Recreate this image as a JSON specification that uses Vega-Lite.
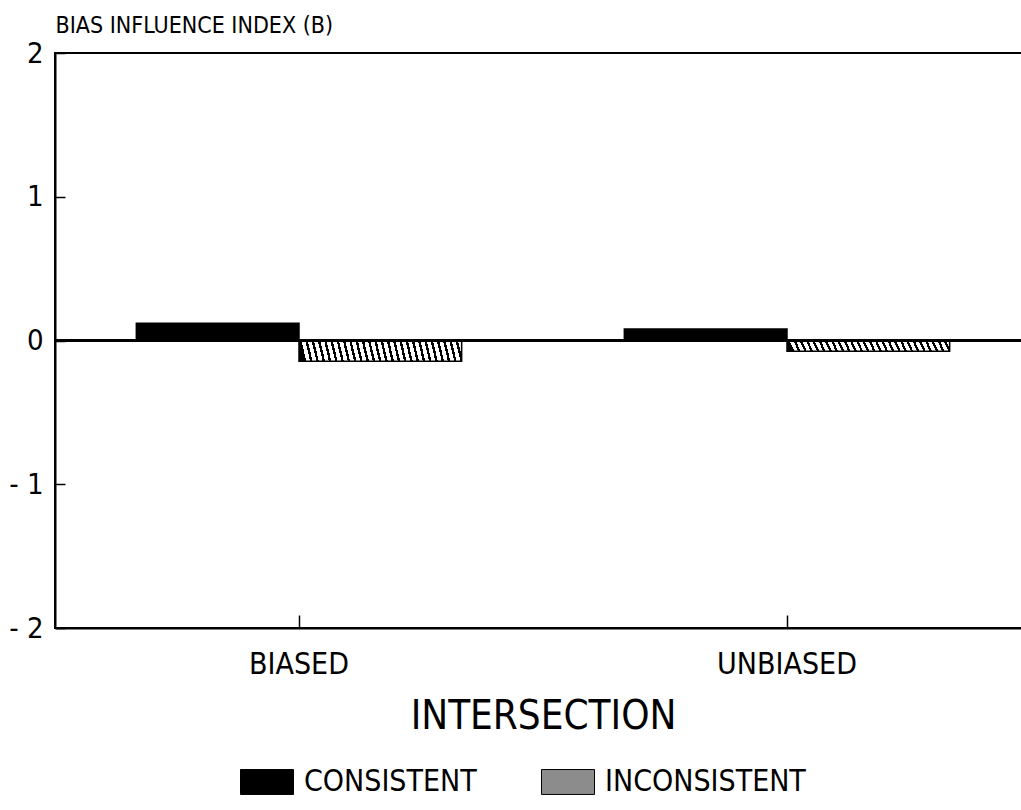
{
  "$schema": "https://vega.github.io/schema/vega-lite/v6.json",
  "width": 976,
  "height": 575,
  "autosize": {"type": "none"},
  "padding": {"left": 55, "top": 53, "right": 0, "bottom": 182},
  "background": "white",
  "config": {
    "view": {"stroke": "black", "strokeWidth": 2},
    "font": "Liberation Sans Narrow, DejaVu Sans Condensed, sans-serif"
  },
  "data": {
    "values": [
      {"intersection": "BIASED", "condition": "CONSISTENT", "bias": 0.12},
      {"intersection": "BIASED", "condition": "INCONSISTENT", "bias": -0.145},
      {"intersection": "UNBIASED", "condition": "CONSISTENT", "bias": 0.08},
      {"intersection": "UNBIASED", "condition": "INCONSISTENT", "bias": -0.075}
    ]
  },
  "layer": [
    {
      "mark": {"type": "bar", "stroke": "black", "strokeWidth": 1.5},
      "encoding": {
        "x": {
          "field": "intersection",
          "type": "nominal",
          "sort": ["BIASED", "UNBIASED"],
          "scale": {"paddingInner": 0, "paddingOuter": 0},
          "title": "INTERSECTION",
          "axis": {
            "labelAngle": 0,
            "labelFontSize": 30,
            "labelColor": "black",
            "labelBaseline": "alphabetic",
            "labelPadding": 58,
            "tickSize": -13,
            "tickColor": "black",
            "tickWidth": 1.5,
            "domainColor": "black",
            "domainWidth": 2,
            "titleFontSize": 40,
            "titleFontWeight": "normal",
            "titleColor": "black",
            "titleY": 100,
            "titleBaseline": "alphabetic"
          }
        },
        "xOffset": {
          "field": "condition",
          "type": "nominal",
          "sort": ["CONSISTENT", "INCONSISTENT"],
          "scale": {"paddingInner": 0, "paddingOuter": 0.5}
        },
        "y": {
          "field": "bias",
          "type": "quantitative",
          "scale": {"domain": [-2, 2], "nice": false},
          "title": "BIAS INFLUENCE INDEX (B)",
          "axis": {
            "values": [-2, -1, 0, 1, 2],
            "labelExpr": "datum.value < 0 ? '- ' + abs(datum.value) : '' + datum.value",
            "grid": false,
            "titleAngle": 0,
            "titleAlign": "left",
            "titleAnchor": "start",
            "titleX": 0,
            "titleY": -21,
            "titleBaseline": "alphabetic",
            "titleFontSize": 23,
            "titleFontWeight": "normal",
            "titleColor": "black",
            "tickSize": -10,
            "tickColor": "black",
            "tickWidth": 1.5,
            "labelFontSize": 29,
            "labelColor": "black",
            "labelPadding": 22,
            "labelFlush": false,
            "domainColor": "black",
            "domainWidth": 2
          }
        },
        "fill": {
          "field": "condition",
          "type": "nominal",
          "scale": {
            "domain": ["CONSISTENT", "INCONSISTENT"],
            "range": ["black", "#8c8c8c"]
          },
          "condition": {
            "test": "datum.condition === 'INCONSISTENT'",
            "value": {
              "gradient": "linear",
              "x1": 0, "y1": 0, "x2": 1, "y2": -0.03,
              "stops": [
                {"offset": 0, "color": "black"}, {"offset": 0.015, "color": "black"}, {"offset": 0.015, "color": "white"}, {"offset": 0.0385, "color": "white"},
                {"offset": 0.0385, "color": "black"}, {"offset": 0.0535, "color": "black"}, {"offset": 0.0535, "color": "white"}, {"offset": 0.0769, "color": "white"},
                {"offset": 0.0769, "color": "black"}, {"offset": 0.0919, "color": "black"}, {"offset": 0.0919, "color": "white"}, {"offset": 0.1154, "color": "white"},
                {"offset": 0.1154, "color": "black"}, {"offset": 0.1304, "color": "black"}, {"offset": 0.1304, "color": "white"}, {"offset": 0.1538, "color": "white"},
                {"offset": 0.1538, "color": "black"}, {"offset": 0.1688, "color": "black"}, {"offset": 0.1688, "color": "white"}, {"offset": 0.1923, "color": "white"},
                {"offset": 0.1923, "color": "black"}, {"offset": 0.2073, "color": "black"}, {"offset": 0.2073, "color": "white"}, {"offset": 0.2308, "color": "white"},
                {"offset": 0.2308, "color": "black"}, {"offset": 0.2458, "color": "black"}, {"offset": 0.2458, "color": "white"}, {"offset": 0.2692, "color": "white"},
                {"offset": 0.2692, "color": "black"}, {"offset": 0.2842, "color": "black"}, {"offset": 0.2842, "color": "white"}, {"offset": 0.3077, "color": "white"},
                {"offset": 0.3077, "color": "black"}, {"offset": 0.3227, "color": "black"}, {"offset": 0.3227, "color": "white"}, {"offset": 0.3462, "color": "white"},
                {"offset": 0.3462, "color": "black"}, {"offset": 0.3612, "color": "black"}, {"offset": 0.3612, "color": "white"}, {"offset": 0.3846, "color": "white"},
                {"offset": 0.3846, "color": "black"}, {"offset": 0.3996, "color": "black"}, {"offset": 0.3996, "color": "white"}, {"offset": 0.4231, "color": "white"},
                {"offset": 0.4231, "color": "black"}, {"offset": 0.4381, "color": "black"}, {"offset": 0.4381, "color": "white"}, {"offset": 0.4615, "color": "white"},
                {"offset": 0.4615, "color": "black"}, {"offset": 0.4765, "color": "black"}, {"offset": 0.4765, "color": "white"}, {"offset": 0.5, "color": "white"},
                {"offset": 0.5, "color": "black"}, {"offset": 0.515, "color": "black"}, {"offset": 0.515, "color": "white"}, {"offset": 0.5385, "color": "white"},
                {"offset": 0.5385, "color": "black"}, {"offset": 0.5535, "color": "black"}, {"offset": 0.5535, "color": "white"}, {"offset": 0.5769, "color": "white"},
                {"offset": 0.5769, "color": "black"}, {"offset": 0.5919, "color": "black"}, {"offset": 0.5919, "color": "white"}, {"offset": 0.6154, "color": "white"},
                {"offset": 0.6154, "color": "black"}, {"offset": 0.6304, "color": "black"}, {"offset": 0.6304, "color": "white"}, {"offset": 0.6538, "color": "white"},
                {"offset": 0.6538, "color": "black"}, {"offset": 0.6688, "color": "black"}, {"offset": 0.6688, "color": "white"}, {"offset": 0.6923, "color": "white"},
                {"offset": 0.6923, "color": "black"}, {"offset": 0.7073, "color": "black"}, {"offset": 0.7073, "color": "white"}, {"offset": 0.7308, "color": "white"},
                {"offset": 0.7308, "color": "black"}, {"offset": 0.7458, "color": "black"}, {"offset": 0.7458, "color": "white"}, {"offset": 0.7692, "color": "white"},
                {"offset": 0.7692, "color": "black"}, {"offset": 0.7842, "color": "black"}, {"offset": 0.7842, "color": "white"}, {"offset": 0.8077, "color": "white"},
                {"offset": 0.8077, "color": "black"}, {"offset": 0.8227, "color": "black"}, {"offset": 0.8227, "color": "white"}, {"offset": 0.8462, "color": "white"},
                {"offset": 0.8462, "color": "black"}, {"offset": 0.8612, "color": "black"}, {"offset": 0.8612, "color": "white"}, {"offset": 0.8846, "color": "white"},
                {"offset": 0.8846, "color": "black"}, {"offset": 0.8996, "color": "black"}, {"offset": 0.8996, "color": "white"}, {"offset": 0.9231, "color": "white"},
                {"offset": 0.9231, "color": "black"}, {"offset": 0.9381, "color": "black"}, {"offset": 0.9381, "color": "white"}, {"offset": 0.9615, "color": "white"},
                {"offset": 0.9615, "color": "black"}, {"offset": 0.9765, "color": "black"}, {"offset": 0.9765, "color": "white"}, {"offset": 1, "color": "white"}
              ]
            }
          },
          "legend": {
            "title": null,
            "orient": "none",
            "legendX": 185,
            "legendY": 702,
            "direction": "horizontal",
            "padding": 0,
            "symbolType": "M-1,-0.47H1V0.47H-1Z",
            "symbolSize": 2809,
            "symbolStrokeColor": "black",
            "symbolStrokeWidth": 1,
            "symbolOpacity": 1,
            "labelFontSize": 30,
            "labelColor": "black",
            "labelOffset": 10,
            "columnPadding": 62,
            "labelLimit": 400,
            "encode": {
              "symbols": {
                "update": {
                  "stroke": {"value": "black"},
                  "strokeWidth": {"value": 1}
                }
              }
            }
          }
        }
      }
    },
    {
      "mark": {"type": "rule", "strokeWidth": 2.5, "color": "black"},
      "encoding": {"y": {"datum": 0}}
    }
  ]
}
